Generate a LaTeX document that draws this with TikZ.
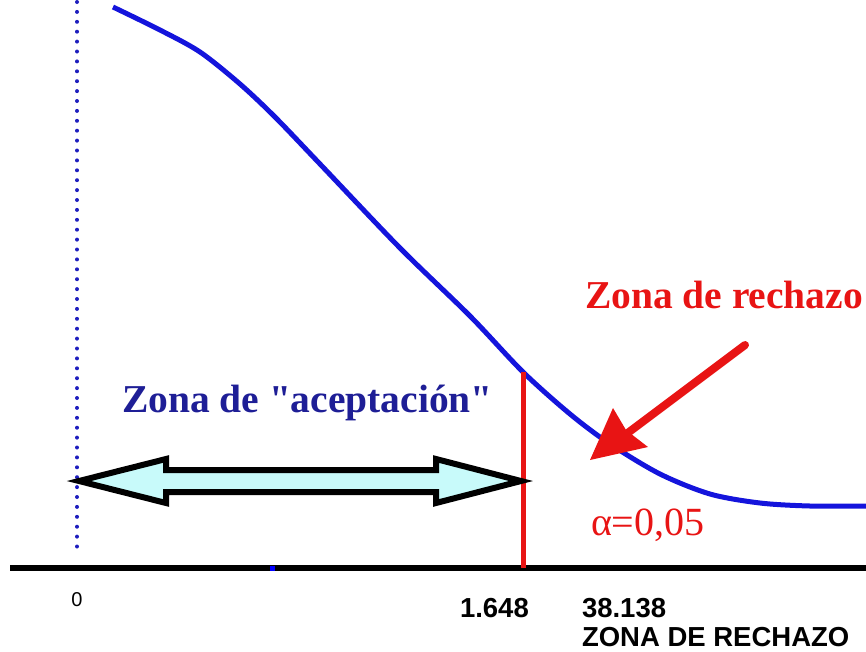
\documentclass[tikz,border=0pt]{standalone}
\usepackage{fontspec}
\setmainfont{Liberation Serif}[Ligatures=TeXOff]
\setsansfont{Liberation Sans}
\definecolor{curveblue}{RGB}{20,20,220}
\definecolor{textblue}{RGB}{30,30,150}
\definecolor{dotblue}{RGB}{30,30,190}
\definecolor{redc}{RGB}{232,20,20}
\definecolor{lightcyan}{RGB}{200,250,250}
\tikzset{
  lbl/.style={inner sep=0pt, outer sep=0pt},
  bigserif/.style={lbl, font=\fontsize{39.5}{42}\selectfont\bfseries},
  sansnum/.style={lbl, font=\sffamily\bfseries\fontsize{27.5}{30}\selectfont},
}
\begin{document}
\begin{tikzpicture}[x=1pt,y=-1pt]
\useasboundingbox (0,0) rectangle (866,651);
% axis
\coordinate (axL) at (10,568);
\coordinate (axR) at (866,568);
\draw[line width=5.5pt] (axL) -- (axR);
% dotted vertical at 0
\coordinate (vTop) at (77,2);
\coordinate (vBot) at (77,553);
\draw[dotblue, line width=4pt, line cap=round, dash pattern=on 0pt off 9.9pt] (vTop) -- (vBot);
% small blue mark on axis
\fill[blue] (269.5,565.5) rectangle (274.5,570.5);
% curve
\draw[curveblue, line width=5pt, line join=round] plot[smooth, tension=0.5] coordinates {
 (113,7) (160,30) (200,52) (240,84) (275,117) (320,164) (400,248) (470,316) (523,372)
 (570,414) (610,444) (660,474) (710,494) (760,503) (810,506) (866,506)};
% red critical line
\coordinate (cTop) at (523,372);
\coordinate (cBot) at (523,568);
\draw[redc, line width=5pt] (cTop) -- (cBot);
% double arrow
\coordinate (dL) at (79,481);
\coordinate (dR) at (521,481);
\filldraw[fill=lightcyan, draw=black, line width=6pt, line join=miter, miter limit=20]
 (dL) -- (166,459) -- (166,470) -- (436,470) -- (436,459) -- (dR)
 -- (436,503) -- (436,492) -- (166,492) -- (166,503) -- cycle;
% labels
\node[bigserif, text=textblue, anchor=base west] (acep) at (122,412) {Zona de "aceptación"};
\node[bigserif, text=redc, anchor=base west] (rech) at (585,308) {Zona de rechazo};
% red arrow
\coordinate (raS) at (745,345);
\coordinate (raE) at (625,435);
\coordinate (raTip) at (590,460);
\draw[redc, line width=8pt, line cap=round] (raS) -- (raE);
\fill[redc] (raTip) -- (613,408) -- (626,430) -- (648,447) -- cycle;
% alpha
\node[lbl, text=redc, anchor=base west, font=\fontsize{40}{42}\selectfont] (alpha) at (591,535) {α=0,05};
% axis numbers
\node[lbl, anchor=base, font=\sffamily\fontsize{20}{22}\selectfont] (zero) at (77,606) {0};
\node[sansnum, anchor=base west] (n1) at (460,617) {1.648};
\node[sansnum, anchor=base west] (n2) at (582,617) {38.138};
\node[sansnum, anchor=base west] (n3) at (582,646) {ZONA DE RECHAZO};
\end{tikzpicture}
\end{document}
